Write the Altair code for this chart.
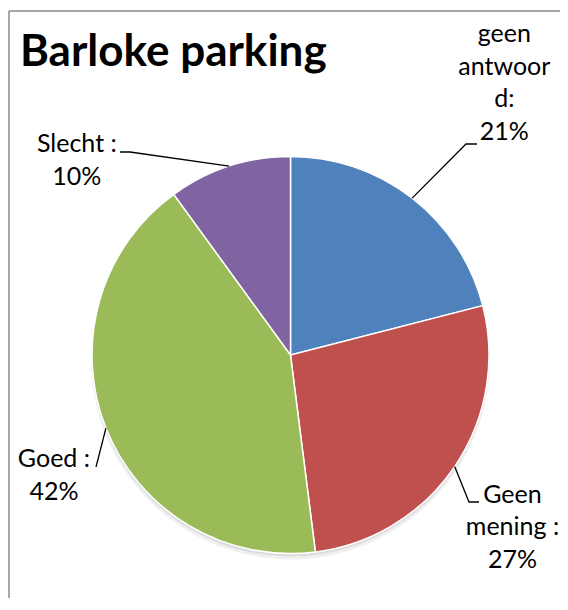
import math
import altair as alt
import pandas as pd

# ---- data ----
categories = ["geen antwoord", "Geen mening", "Goed", "Slecht"]
percent = [21, 27, 42, 10]
label_text = [["geen", "antwoor", "d:"], ["Geen", "mening :"], ["Goed :"], ["Slecht :"]]
title_text = "Barloke parking"

# ---- style / layout ----
colors = ["#4F81BD", "#C0504D", "#9BBB59", "#8064A2"]
W, H = 552, 590
CX, CY, R = 282.5, 347, 198.5
FONT = "Lato"
FS = 25
LH = 32.5
# label block anchor: (distance from centre, angle nudge in degrees from slice mid-angle)
label_polar = {
    "geen antwoord": (339.8, 1.2),
    "Geen mening": (285.8, 4.84),
    "Goed": (269.2, -6.9),
    "Slecht": (283.5, -30.9),
}
# leader line elbow and end points (chart pixels)
leader_tail = {
    "geen antwoord": [(458, 136), (469, 136)],
    "Geen mening": [(461, 494), (471, 494)],
    "Goed": [(88, 459)],
    "Slecht": [(122, 144), (112, 144)],
}

total = sum(percent)
pie_rows, text_rows, leader_rows = [], [], []
cum = 0.0
for i, (cat, p) in enumerate(zip(categories, percent)):
    mid = (cum + p / 2) / total * 360.0
    cum += p
    pie_rows.append({"cat": cat, "pct": p, "idx": i})
    dist, nudge = label_polar[cat]
    a = math.radians(mid + nudge)
    ax = CX + dist * math.sin(a)
    ay = CY - dist * math.cos(a)
    lines = label_text[i] + [f"{p}%"]
    n = len(lines)
    for j, t in enumerate(lines):
        text_rows.append({"cat": cat, "t": t, "x": ax, "y": ay + (j - (n - 1) / 2) * LH})
    am = math.radians(mid)
    pts = [(CX + R * math.sin(am), CY - R * math.cos(am))] + leader_tail[cat]
    for k, (px, py) in enumerate(pts):
        leader_rows.append({"cat": cat, "k": k, "x": px, "y": py})

pie_df = pd.DataFrame(pie_rows)
text_df = pd.DataFrame(text_rows)
leader_df = pd.DataFrame(leader_rows)
title_df = pd.DataFrame([{"t": title_text, "x": 12, "y": 58}])
border_df = pd.DataFrame([
    {"x": 1, "x2": W, "y": 3, "y2": 3},
    {"x": 1, "x2": 1, "y": 3, "y2": H},
])

xs = alt.Scale(domain=[0, W], range=[0, W])
ys = alt.Scale(domain=[0, H], range=[0, H])

shadow1 = alt.Chart(pie_df).mark_arc(outerRadius=R + 1, color="#000000", opacity=0.06).encode(
    theta=alt.Theta("pct:Q", stack=True), order=alt.Order("idx:Q"),
    x=alt.value(CX), y=alt.value(CY + 5),
)
shadow2 = alt.Chart(pie_df).mark_arc(outerRadius=R, color="#000000", opacity=0.08).encode(
    theta=alt.Theta("pct:Q", stack=True), order=alt.Order("idx:Q"),
    x=alt.value(CX), y=alt.value(CY + 3),
)
pie = alt.Chart(pie_df).mark_arc(outerRadius=R, stroke="white", strokeWidth=1.5).encode(
    theta=alt.Theta("pct:Q", stack=True),
    color=alt.Color("cat:N", scale=alt.Scale(domain=categories, range=colors), legend=None),
    order=alt.Order("idx:Q"),
    x=alt.value(CX), y=alt.value(CY),
)

border = alt.Chart(border_df).mark_rule(color="#8a8a8a", strokeWidth=1.5).encode(
    x=alt.X("x:Q", scale=xs, axis=None), x2="x2:Q",
    y=alt.Y("y:Q", scale=ys, axis=None), y2="y2:Q",
)

leaders = alt.Chart(leader_df).mark_line(color="black", strokeWidth=1.3).encode(
    x=alt.X("x:Q", scale=xs, axis=None),
    y=alt.Y("y:Q", scale=ys, axis=None),
    detail="cat:N", order="k:Q",
)

labels = alt.Chart(text_df).mark_text(font=FONT, fontSize=FS, color="black", align="center", baseline="alphabetic").encode(
    x=alt.X("x:Q", scale=xs, axis=None),
    y=alt.Y("y:Q", scale=ys, axis=None),
    text="t:N",
)

title = alt.Chart(title_df).mark_text(font=FONT, fontSize=44, fontWeight="bold", color="black", align="left", baseline="alphabetic").encode(
    x=alt.X("x:Q", scale=xs, axis=None),
    y=alt.Y("y:Q", scale=ys, axis=None),
    text="t:N",
)

chart = alt.layer(border, shadow1, shadow2, pie, leaders, labels, title).properties(
    width=W, height=H, autosize=alt.AutoSizeParams(type="none"), padding=0,
    background="white",
).configure_view(strokeWidth=0)

chart.save("out.html", embed_options={"renderer": "svg", "actions": False})
